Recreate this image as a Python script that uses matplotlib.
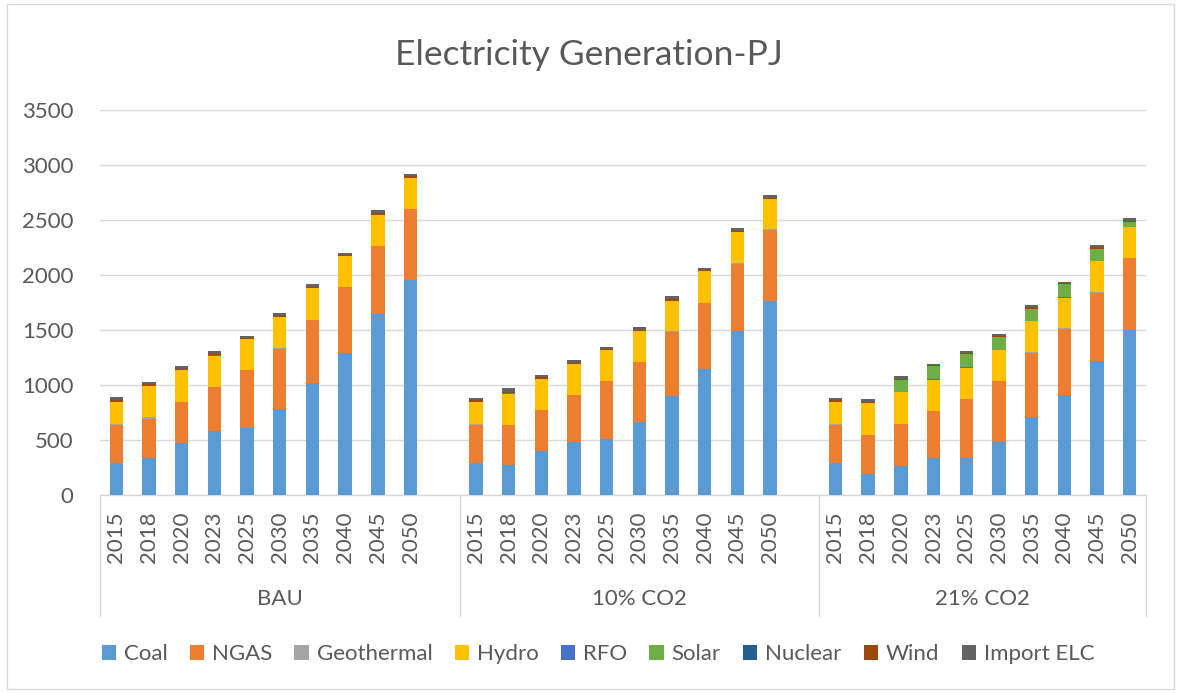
import matplotlib
matplotlib.use("Agg")
import matplotlib.pyplot as plt
from matplotlib.patches import Rectangle
import matplotlib.transforms as mtransforms
import numpy as np

plt.rcParams['font.family'] = ['Lato', 'DejaVu Sans']

scenarios = ["BAU", "10% CO2", "21% CO2"]
years = ["2015", "2018", "2020", "2023", "2025", "2030", "2035", "2040", "2045", "2050"]
series_names = ["Coal", "NGAS", "Geothermal", "Hydro", "RFO", "Solar", "Nuclear", "Wind", "Import ELC"]
colors = ["#5B9BD5", "#ED7D31", "#A5A5A5", "#FFC000", "#4472C4", "#70AD47", "#255E91", "#9E480E", "#636363"]

# values per scenario (10 years each)
coal_bau = [289, 340, 470, 584, 611, 784, 1018, 1295, 1642, 1955]
coal_10 = [289, 274, 398, 483, 508, 660, 897, 1146, 1493, 1766]
coal_21 = [289, 188, 264, 337, 337, 483, 708, 906, 1219, 1502]

ngas_bau = [349, 351, 372, 395, 523, 546, 573, 597, 621, 642]
ngas_10 = [349, 361, 374, 426, 526, 547, 583, 596, 611, 639]
ngas_21 = [349, 359, 384, 423, 535, 551, 587, 605, 620, 650]

geo_bau = [12, 15, 3, 3, 2, 2, 2, 2, 2, 2]
geo_10 = [12, 3, 2, 2, 2, 2, 8, 8, 8, 10]
geo_21 = [12, 2, 2, 2, 2, 2, 2, 6, 2, 2]

hydro_bau = [195, 288, 289, 283, 284, 285, 286, 280, 283, 286]
hydro_10 = [195, 280, 284, 281, 280, 281, 275, 287, 277, 272]
hydro_21 = [195, 284, 283, 281, 281, 283, 284, 271, 284, 284]

rfo_bau = [5, 0, 0, 6, 0, 0, 0, 0, 0, 0]
rfo_10 = [5, 5, 0, 0, 0, 0, 5, 0, 0, 0]
rfo_21 = [5, 0, 0, 10, 10, 0, 0, 12, 0, 0]

solar_bau = [0, 0, 0, 0, 0, 0, 0, 0, 0, 0]
solar_10 = [0, 0, 0, 0, 0, 0, 0, 0, 0, 0]
solar_21 = [0, 0, 116, 117, 116, 113, 112, 115, 115, 40]

nuclear_bau = [0, 0, 0, 0, 0, 0, 0, 0, 0, 0]
nuclear_10 = [0, 0, 0, 0, 0, 0, 0, 0, 0, 0]
nuclear_21 = [0, 0, 0, 0, 0, 0, 0, 0, 0, 0]

wind_bau = [14, 14, 12, 10, 8, 12, 12, 12, 14, 12]
wind_10 = [14, 15, 12, 12, 10, 12, 12, 10, 12, 15]
wind_21 = [14, 12, 10, 8, 8, 10, 12, 10, 12, 15]

import_bau = [30, 22, 24, 26, 13, 25, 24, 15, 25, 18]
import_10 = [18, 32, 24, 27, 18, 27, 26, 20, 25, 25]
import_21 = [18, 27, 23, 14, 18, 26, 25, 15, 22, 21]

data = {
    "Coal": [coal_bau, coal_10, coal_21],
    "NGAS": [ngas_bau, ngas_10, ngas_21],
    "Geothermal": [geo_bau, geo_10, geo_21],
    "Hydro": [hydro_bau, hydro_10, hydro_21],
    "RFO": [rfo_bau, rfo_10, rfo_21],
    "Solar": [solar_bau, solar_10, solar_21],
    "Nuclear": [nuclear_bau, nuclear_10, nuclear_21],
    "Wind": [wind_bau, wind_10, wind_21],
    "Import ELC": [import_bau, import_10, import_21],
}

W, H = 1177, 693
fig = plt.figure(figsize=(W / 100, H / 100), dpi=100)
ax = fig.add_axes([100 / W, 1 - 495 / H, (1146 - 100) / W, (495 - 110) / H])

text_color = "#595959"
grid_color = "#D9D9D9"

slot = len(years) + 1
positions = []
for g in range(len(scenarios)):
    positions.append(np.arange(len(years)) + g * slot)

for g in range(len(scenarios)):
    bottom = np.zeros(len(years))
    for name, col in zip(series_names, colors):
        vals = np.array(data[name][g], dtype=float)
        ax.bar(positions[g], vals, width=0.41, bottom=bottom, color=col,
               label=name if g == 0 else None, zorder=3, linewidth=0)
        bottom += vals

n_slots = slot * len(scenarios) - 1
ax.set_xlim(-0.5, n_slots - 0.5)
ax.set_ylim(0, 3500)
ax.set_yticks(np.arange(0, 3501, 500))
ax.yaxis.grid(True, color=grid_color, linewidth=1.0, zorder=0)
ax.set_axisbelow(True)
ax.tick_params(axis='y', length=0, labelsize=16, labelcolor=text_color, pad=19)
ax.set_xticks([])
for s in ["top", "right", "left"]:
    ax.spines[s].set_visible(False)
ax.spines["bottom"].set_color(grid_color)
ax.spines["bottom"].set_linewidth(1.0)

trans = mtransforms.blended_transform_factory(ax.transData, ax.transAxes)
ax_h = 495 - 110
y_year = -(537 - 495) / ax_h
y_group = -(599 - 495) / ax_h
y_sep = -(616 - 495) / ax_h

for g, scen in enumerate(scenarios):
    for p, yr in zip(positions[g], years):
        ax.text(p, y_year, yr, rotation=90, ha='center', va='center',
                fontsize=16, color=text_color, transform=trans)
    start = g * slot - 0.5
    end = min(g * slot + slot - 0.5, n_slots - 0.5)
    ax.text((start + end) / 2, y_group, scen, ha='center', va='center',
            fontsize=16, color=text_color, transform=trans)

sep_x = [-0.5, slot - 0.5, 2 * slot - 0.5, n_slots - 0.5]
for x in sep_x:
    ax.plot([x, x], [0, y_sep], color=grid_color, linewidth=1.0,
            transform=trans, clip_on=False, zorder=1)

fig.text(0.5, 1 - 55 / H, "Electricity Generation-PJ", ha='center', va='center',
         fontsize=25.5, color=text_color)

handles, labels = ax.get_legend_handles_labels()
leg = fig.legend(handles, labels, loc='center', bbox_to_anchor=(598 / W, 1 - 654 / H),
                 ncol=9, frameon=False, fontsize=16, handlelength=0.65, handleheight=0.65,
                 handletextpad=0.35, columnspacing=1.0, labelcolor=text_color)

fig.patches.append(Rectangle((7 / W, 4 / H), (1174 - 7) / W, (689 - 4) / H,
                             transform=fig.transFigure, fill=False,
                             edgecolor=grid_color, linewidth=1.0))

fig.savefig("out.png", dpi=100, facecolor="white")
